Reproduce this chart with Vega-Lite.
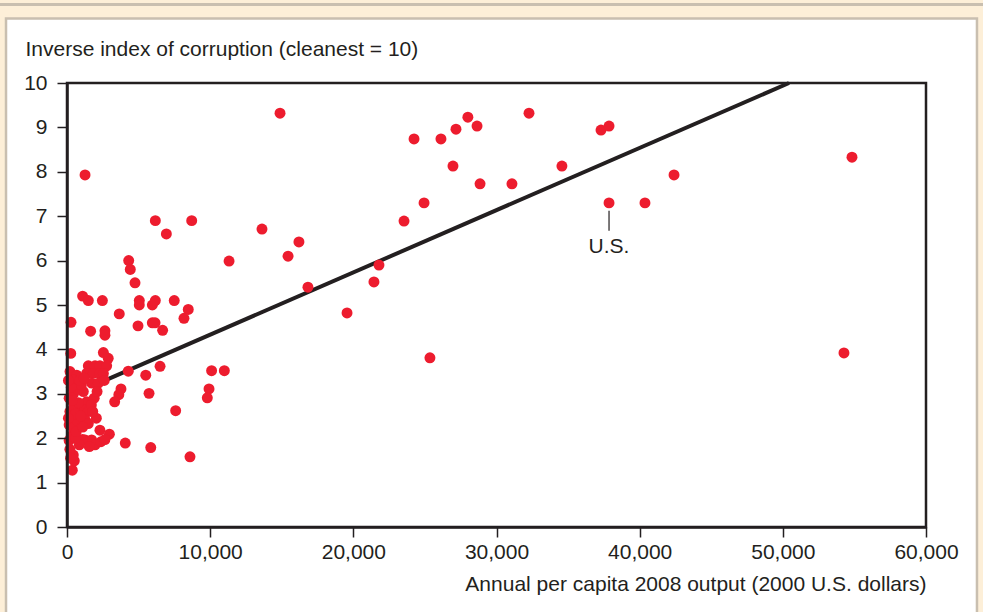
{
  "$schema": "https://vega.github.io/schema/vega-lite/v6.json",
  "width": 859,
  "height": 444,
  "autosize": {"type": "none"},
  "padding": {"left": 67, "top": 83, "right": 57, "bottom": 85},
  "background": "#fdefd8",
  "config": {
    "view": {"stroke": null},
    "font": "Liberation Sans",
    "axis": {
      "labelFont": "Liberation Sans", "labelFontSize": 21, "labelColor": "#231f20",
      "titleFont": "Liberation Sans", "titleFontSize": 21, "titleFontWeight": "normal", "titleColor": "#231f20",
      "domainColor": "#231f20", "domainWidth": 2.5, "tickColor": "#231f20", "tickWidth": 1.5, "tickSize": 10,
      "grid": false, "labelFlush": false
    }
  },
  "datasets": {
    "countries": [
      {"gdp": 14880, "index": 9.32}, {"gdp": 24240, "index": 8.74}, {"gdp": 26120, "index": 8.74},
      {"gdp": 28000, "index": 9.23}, {"gdp": 27170, "index": 8.96}, {"gdp": 28640, "index": 9.03},
      {"gdp": 32270, "index": 9.32}, {"gdp": 37300, "index": 8.94}, {"gdp": 37860, "index": 9.03},
      {"gdp": 26960, "index": 8.13}, {"gdp": 28850, "index": 7.73}, {"gdp": 31080, "index": 7.73},
      {"gdp": 34570, "index": 8.13}, {"gdp": 1260, "index": 7.93}, {"gdp": 42400, "index": 7.93},
      {"gdp": 54830, "index": 8.33}, {"gdp": 37860, "index": 7.3}, {"gdp": 40370, "index": 7.3},
      {"gdp": 24940, "index": 7.3}, {"gdp": 23540, "index": 6.89}, {"gdp": 13620, "index": 6.71},
      {"gdp": 16200, "index": 6.42}, {"gdp": 15440, "index": 6.1}, {"gdp": 11320, "index": 5.99},
      {"gdp": 21790, "index": 5.9}, {"gdp": 21440, "index": 5.52}, {"gdp": 16830, "index": 5.4},
      {"gdp": 19560, "index": 4.82}, {"gdp": 25350, "index": 3.81}, {"gdp": 54270, "index": 3.92},
      {"gdp": 6170, "index": 6.9}, {"gdp": 8710, "index": 6.9}, {"gdp": 6940, "index": 6.6},
      {"gdp": 4310, "index": 6.0}, {"gdp": 4420, "index": 5.8}, {"gdp": 4750, "index": 5.5},
      {"gdp": 2470, "index": 5.1}, {"gdp": 1090, "index": 5.2}, {"gdp": 1490, "index": 5.1},
      {"gdp": 3650, "index": 4.8}, {"gdp": 5050, "index": 5.1}, {"gdp": 5050, "index": 5.0},
      {"gdp": 5960, "index": 5.0}, {"gdp": 6170, "index": 5.1}, {"gdp": 7490, "index": 5.1},
      {"gdp": 8470, "index": 4.9}, {"gdp": 8170, "index": 4.7}, {"gdp": 4960, "index": 4.53},
      {"gdp": 5960, "index": 4.6}, {"gdp": 6150, "index": 4.6}, {"gdp": 6680, "index": 4.43},
      {"gdp": 2650, "index": 4.42}, {"gdp": 2650, "index": 4.32}, {"gdp": 280, "index": 4.61},
      {"gdp": 1650, "index": 4.41}, {"gdp": 260, "index": 3.91}, {"gdp": 2540, "index": 3.93},
      {"gdp": 2880, "index": 3.8}, {"gdp": 4280, "index": 3.51}, {"gdp": 5500, "index": 3.42},
      {"gdp": 6500, "index": 3.62}, {"gdp": 10100, "index": 3.52}, {"gdp": 10990, "index": 3.52},
      {"gdp": 9920, "index": 3.11}, {"gdp": 9800, "index": 2.91}, {"gdp": 5730, "index": 3.01},
      {"gdp": 7590, "index": 2.62}, {"gdp": 3770, "index": 3.11}, {"gdp": 3620, "index": 2.98},
      {"gdp": 3330, "index": 2.82}, {"gdp": 4070, "index": 1.89}, {"gdp": 5850, "index": 1.79},
      {"gdp": 8590, "index": 1.58}, {"gdp": 2300, "index": 2.18}, {"gdp": 2960, "index": 2.09},
      {"gdp": 1490, "index": 3.63}, {"gdp": 1960, "index": 3.63}, {"gdp": 2300, "index": 3.63},
      {"gdp": 2770, "index": 3.63}, {"gdp": 1370, "index": 3.46}, {"gdp": 1840, "index": 3.46},
      {"gdp": 2300, "index": 3.46}, {"gdp": 2540, "index": 3.46}, {"gdp": 1720, "index": 3.24},
      {"gdp": 2190, "index": 3.24}, {"gdp": 2600, "index": 3.3}, {"gdp": 210, "index": 3.5},
      {"gdp": 680, "index": 3.42}, {"gdp": 440, "index": 3.31}, {"gdp": 1140, "index": 3.05},
      {"gdp": 1370, "index": 2.82}, {"gdp": 1140, "index": 2.64}, {"gdp": 1490, "index": 2.6},
      {"gdp": 1260, "index": 2.41}, {"gdp": 1490, "index": 2.33}, {"gdp": 1260, "index": 1.96},
      {"gdp": 1720, "index": 1.96}, {"gdp": 1960, "index": 1.85}, {"gdp": 2370, "index": 1.92},
      {"gdp": 2650, "index": 1.97}, {"gdp": 1090, "index": 1.97}, {"gdp": 860, "index": 1.85},
      {"gdp": 1560, "index": 1.81}, {"gdp": 370, "index": 1.28}, {"gdp": 510, "index": 1.49},
      {"gdp": 440, "index": 1.62}, {"gdp": 200, "index": 1.75}, {"gdp": 150, "index": 1.95},
      {"gdp": 300, "index": 2.05}, {"gdp": 600, "index": 2.0}, {"gdp": 150, "index": 2.3},
      {"gdp": 400, "index": 2.25}, {"gdp": 700, "index": 2.4}, {"gdp": 200, "index": 2.6},
      {"gdp": 500, "index": 2.7}, {"gdp": 800, "index": 2.8}, {"gdp": 150, "index": 2.9},
      {"gdp": 450, "index": 3.0}, {"gdp": 750, "index": 3.1}, {"gdp": 1000, "index": 3.2},
      {"gdp": 300, "index": 3.15}, {"gdp": 100, "index": 3.3}, {"gdp": 600, "index": 2.55},
      {"gdp": 950, "index": 2.5}, {"gdp": 1900, "index": 2.9}, {"gdp": 1700, "index": 2.75},
      {"gdp": 2100, "index": 3.05}, {"gdp": 900, "index": 3.3}, {"gdp": 1200, "index": 3.35},
      {"gdp": 100, "index": 2.45}, {"gdp": 350, "index": 2.85}, {"gdp": 650, "index": 2.15},
      {"gdp": 1100, "index": 2.25}, {"gdp": 2050, "index": 2.45}, {"gdp": 1800, "index": 2.6},
      {"gdp": 250, "index": 1.55}
    ],
    "fit": [
      {"gdp": 2420, "index": 3.27},
      {"gdp": 50430, "index": 10}
    ],
    "leader": [
      {"gdp": 37860, "top": 7.12, "bottom": 6.67}
    ],
    "labels": [
      {"gdp": 37860, "index": 6.31, "label": "U.S."}
    ]
  },
  "layer": [
    {
      "data": {"values": [{}]},
      "mark": {"type": "rect", "fill": "white", "stroke": "#c9bfb0", "strokeWidth": 2.5},
      "encoding": {
        "x": {
          "datum": -4260, "type": "quantitative",
          "scale": {"domain": [0, 60000], "nice": false},
          "axis": {
            "title": "Annual per capita 2008 output (2000 U.S. dollars)",
            "values": [0, 10000, 20000, 30000, 40000, 50000, 60000],
            "format": ",d", "labelPadding": 4, "titleAnchor": "end", "titlePadding": 11,
            "zindex": 2
          }
        },
        "x2": {"datum": 63560},
        "y": {
          "datum": 11.45, "type": "quantitative",
          "scale": {"domain": [0, 10], "nice": false},
          "axis": {
            "title": "Inverse index of corruption (cleanest = 10)",
            "values": [0, 1, 2, 3, 4, 5, 6, 7, 8, 9, 10],
            "labelPadding": 10,
            "titleAngle": 0, "titleAlign": "left", "titleBaseline": "alphabetic",
            "titleX": -42, "titleY": -28,
            "zindex": 2
          }
        },
        "y2": {"datum": -3}
      }
    },
    {
      "data": {"values": [{}]},
      "mark": {"type": "rule", "stroke": "#c9bfb0", "strokeWidth": 3},
      "encoding": {
        "x": {"datum": -6000, "type": "quantitative"},
        "x2": {"datum": 66000},
        "y": {"datum": 11.77, "type": "quantitative"}
      }
    },
    {
      "data": {"name": "fit"},
      "mark": {"type": "line", "stroke": "#231f20", "strokeWidth": 4},
      "encoding": {
        "x": {"field": "gdp", "type": "quantitative"},
        "y": {"field": "index", "type": "quantitative"}
      }
    },
    {
      "data": {"name": "countries"},
      "mark": {"type": "circle", "size": 120, "color": "#ed1c2e", "opacity": 1},
      "encoding": {
        "x": {"field": "gdp", "type": "quantitative"},
        "y": {"field": "index", "type": "quantitative"}
      }
    },
    {
      "data": {"values": [{}]},
      "mark": {"type": "rect", "fillOpacity": 0, "stroke": "#231f20", "strokeWidth": 2.5},
      "encoding": {
        "x": {"datum": 0, "type": "quantitative"},
        "x2": {"datum": 60000},
        "y": {"datum": 0, "type": "quantitative"},
        "y2": {"datum": 10}
      }
    },
    {
      "data": {"name": "leader"},
      "mark": {"type": "rule", "stroke": "#231f20", "strokeWidth": 1.2},
      "encoding": {
        "x": {"field": "gdp", "type": "quantitative"},
        "y": {"field": "top", "type": "quantitative"},
        "y2": {"field": "bottom"}
      }
    },
    {
      "data": {"name": "labels"},
      "mark": {"type": "text", "fontSize": 21, "font": "Liberation Sans", "color": "#231f20", "align": "center", "baseline": "middle"},
      "encoding": {
        "x": {"field": "gdp", "type": "quantitative"},
        "y": {"field": "index", "type": "quantitative"},
        "text": {"field": "label"}
      }
    }
  ]
}
